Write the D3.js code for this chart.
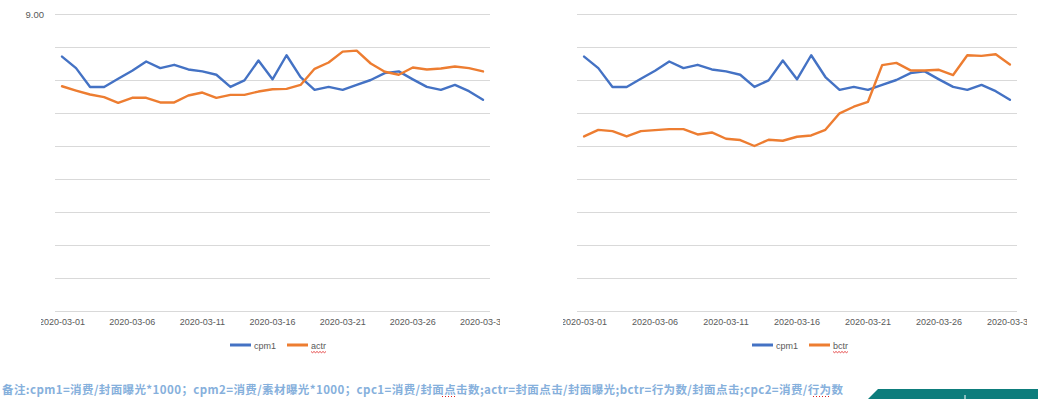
<!DOCTYPE html>
<html>
<head>
<meta charset="utf-8">
<script src="https://cdn.jsdelivr.net/npm/d3@7/dist/d3.min.js"></script>
<style>
  body { margin: 0; background: #fff; }
  svg { display: block; }
</style>
</head>
<body>
<svg id="chart" width="1038" height="399"></svg>
<script>
"use strict";

const dates = ["2020-03-01","2020-03-02","2020-03-03","2020-03-04","2020-03-05","2020-03-06",
  "2020-03-07","2020-03-08","2020-03-09","2020-03-10","2020-03-11","2020-03-12","2020-03-13",
  "2020-03-14","2020-03-15","2020-03-16","2020-03-17","2020-03-18","2020-03-19","2020-03-20",
  "2020-03-21","2020-03-22","2020-03-23","2020-03-24","2020-03-25","2020-03-26","2020-03-27",
  "2020-03-28","2020-03-29","2020-03-30","2020-03-31"];

const cpm1 = [7.71, 7.36, 6.79, 6.79, 7.04, 7.28, 7.56, 7.36, 7.46, 7.32, 7.26, 7.16, 6.79, 6.99,
  7.59, 7.02, 7.75, 7.09, 6.70, 6.79, 6.70, 6.85, 7.00, 7.21, 7.26, 7.02, 6.79, 6.70, 6.85, 6.66, 6.40];

const actr = [6.81, 6.68, 6.56, 6.48, 6.31, 6.46, 6.46, 6.32, 6.32, 6.53, 6.62, 6.46, 6.55, 6.55,
  6.65, 6.72, 6.73, 6.85, 7.34, 7.53, 7.86, 7.89, 7.50, 7.25, 7.16, 7.38, 7.32, 7.35, 7.41, 7.36, 7.26];

const bctr = [5.29, 5.49, 5.45, 5.29, 5.45, 5.48, 5.51, 5.51, 5.35, 5.41, 5.22, 5.18, 5.00, 5.19,
  5.16, 5.28, 5.32, 5.49, 5.99, 6.19, 6.34, 7.45, 7.52, 7.29, 7.29, 7.31, 7.15, 7.75, 7.73, 7.78, 7.47];

const yTicks = [0, 1, 2, 3, 4, 5, 6, 7, 8, 9];
const xTickLabels = ["2020-03-01","2020-03-06","2020-03-11","2020-03-16","2020-03-21","2020-03-26","2020-03-31"];

const note = "备注:cpm1=消费/封面曝光*1000；cpm2=消费/素材曝光*1000；cpc1=消费/封面点击数;actr=封面点击/封面曝光;bctr=行为数/封面点击;cpc2=消费/行为数";

const BLUE = "#4472c4", ORANGE = "#ed7d31", GRID = "#d9d9d9", LABEL = "#595959";

const svg = d3.select("#chart");
const defs = svg.append("defs");

function drawChart(cfg) {
    let x = d3.scaleBand().domain(dates).range([cfg.left, cfg.right]);
    let y = d3.scaleLinear().domain([0, 9]).range([311, 14]);
    let g = svg.append("g");

    // gridlines (+ lone top label on the left chart)
    let yAxis = d3.axisLeft(y)
        .tickValues(yTicks)
        .tickSize(-(cfg.right - cfg.left))
        .tickPadding(11)
        .tickFormat(d => (cfg.yLabel && d === 9) ? d3.format(".2f")(d) : "");
    let gy = g.append("g")
        .attr("transform", "translate(" + cfg.left + ",0)")
        .call(yAxis);
    gy.select(".domain").remove();
    gy.selectAll("line").attr("stroke", GRID).attr("stroke-width", 1);
    gy.selectAll("text").attr("fill", LABEL)
        .style("font", "9.5px 'Liberation Sans', Arial, sans-serif");

    // x labels, clipped like the source
    defs.append("clipPath").attr("id", cfg.id + "-clip")
        .append("rect").attr("x", cfg.clip[0]).attr("y", 300)
        .attr("width", cfg.clip[1] - cfg.clip[0]).attr("height", 40);
    let xAxis = d3.axisBottom(x).tickValues(xTickLabels).tickSize(0).tickPadding(8);
    let gx = g.append("g")
        .attr("clip-path", "url(#" + cfg.id + "-clip)")
        .append("g")
        .attr("transform", "translate(0,311)")
        .call(xAxis);
    gx.select(".domain").remove();
    gx.selectAll("text").attr("fill", LABEL)
        .style("font", "9px 'Liberation Sans', Arial, sans-serif");

    let line = d3.line()
        .x((d, i) => x(dates[i]) + x.bandwidth() / 2)
        .y(d => y(d));

    cfg.series.forEach(s => {
        g.append("path")
            .attr("d", line(s.values))
            .attr("fill", "none")
            .attr("stroke", s.color)
            .attr("stroke-width", 2.4)
            .attr("stroke-linejoin", "round")
            .attr("stroke-linecap", "round");
    });

    // legend
    let lx = cfg.legendX;
    cfg.series.forEach((s, i) => {
        let ox = lx + i * 57;
        g.append("line")
            .attr("x1", ox).attr("x2", ox + 21)
            .attr("y1", 345).attr("y2", 345)
            .attr("stroke", s.color).attr("stroke-width", 3);
        let t = g.append("text")
            .attr("x", ox + 24).attr("y", 348.5)
            .attr("fill", LABEL)
            .style("font", "9px 'Liberation Sans', Arial, sans-serif")
            .text(s.name);
        if (s.squiggle) {
            let w = t.node().getComputedTextLength();
            let pts = d3.range(0, w + 0.1, 1.5).map((d, k) => [ox + 24 + d, 351.5 + (k % 2 ? 1.2 : 0)]);
            g.append("path").attr("d", d3.line()(pts))
                .attr("fill", "none").attr("stroke", "#e02020").attr("stroke-width", 0.8);
        }
    });
}

drawChart({
    id: "left", left: 55, right: 490, clip: [41, 500], yLabel: true, legendX: 230,
    series: [
        {name: "cpm1", values: cpm1, color: BLUE},
        {name: "actr", values: actr, color: ORANGE, squiggle: true}
    ]
});

drawChart({
    id: "right", left: 577, right: 1017, clip: [563, 1027], yLabel: false, legendX: 752,
    series: [
        {name: "cpm1", values: cpm1, color: BLUE},
        {name: "bctr", values: bctr, color: ORANGE, squiggle: true}
    ]
});

// footnote
svg.append("text")
    .attr("x", 2).attr("y", 394)
    .attr("textLength", 841)
    .attr("lengthAdjust", "spacing")
    .attr("fill", "#86b0dc")
    .style("font", "bold 11.5px 'Noto Sans CJK SC', sans-serif")
    .text(note);

// red dotted marks under actr / bctr in the note
[[442, 457], [813, 830]].forEach(r => {
    svg.append("line")
        .attr("x1", r[0]).attr("x2", r[1])
        .attr("y1", 396.5).attr("y2", 396.5)
        .attr("stroke", "#e02020").attr("stroke-width", 1)
        .attr("stroke-dasharray", "1,2");
});

// teal badge in the corner
svg.append("path")
    .attr("d", "M868,399 L878,389 L1038,389 L1038,399 Z")
    .attr("fill", "#0d7d7c");
svg.append("line")
    .attr("x1", 965).attr("x2", 965).attr("y1", 395).attr("y2", 399)
    .attr("stroke", "#fff").attr("stroke-width", 1);
</script>
</body>
</html>
